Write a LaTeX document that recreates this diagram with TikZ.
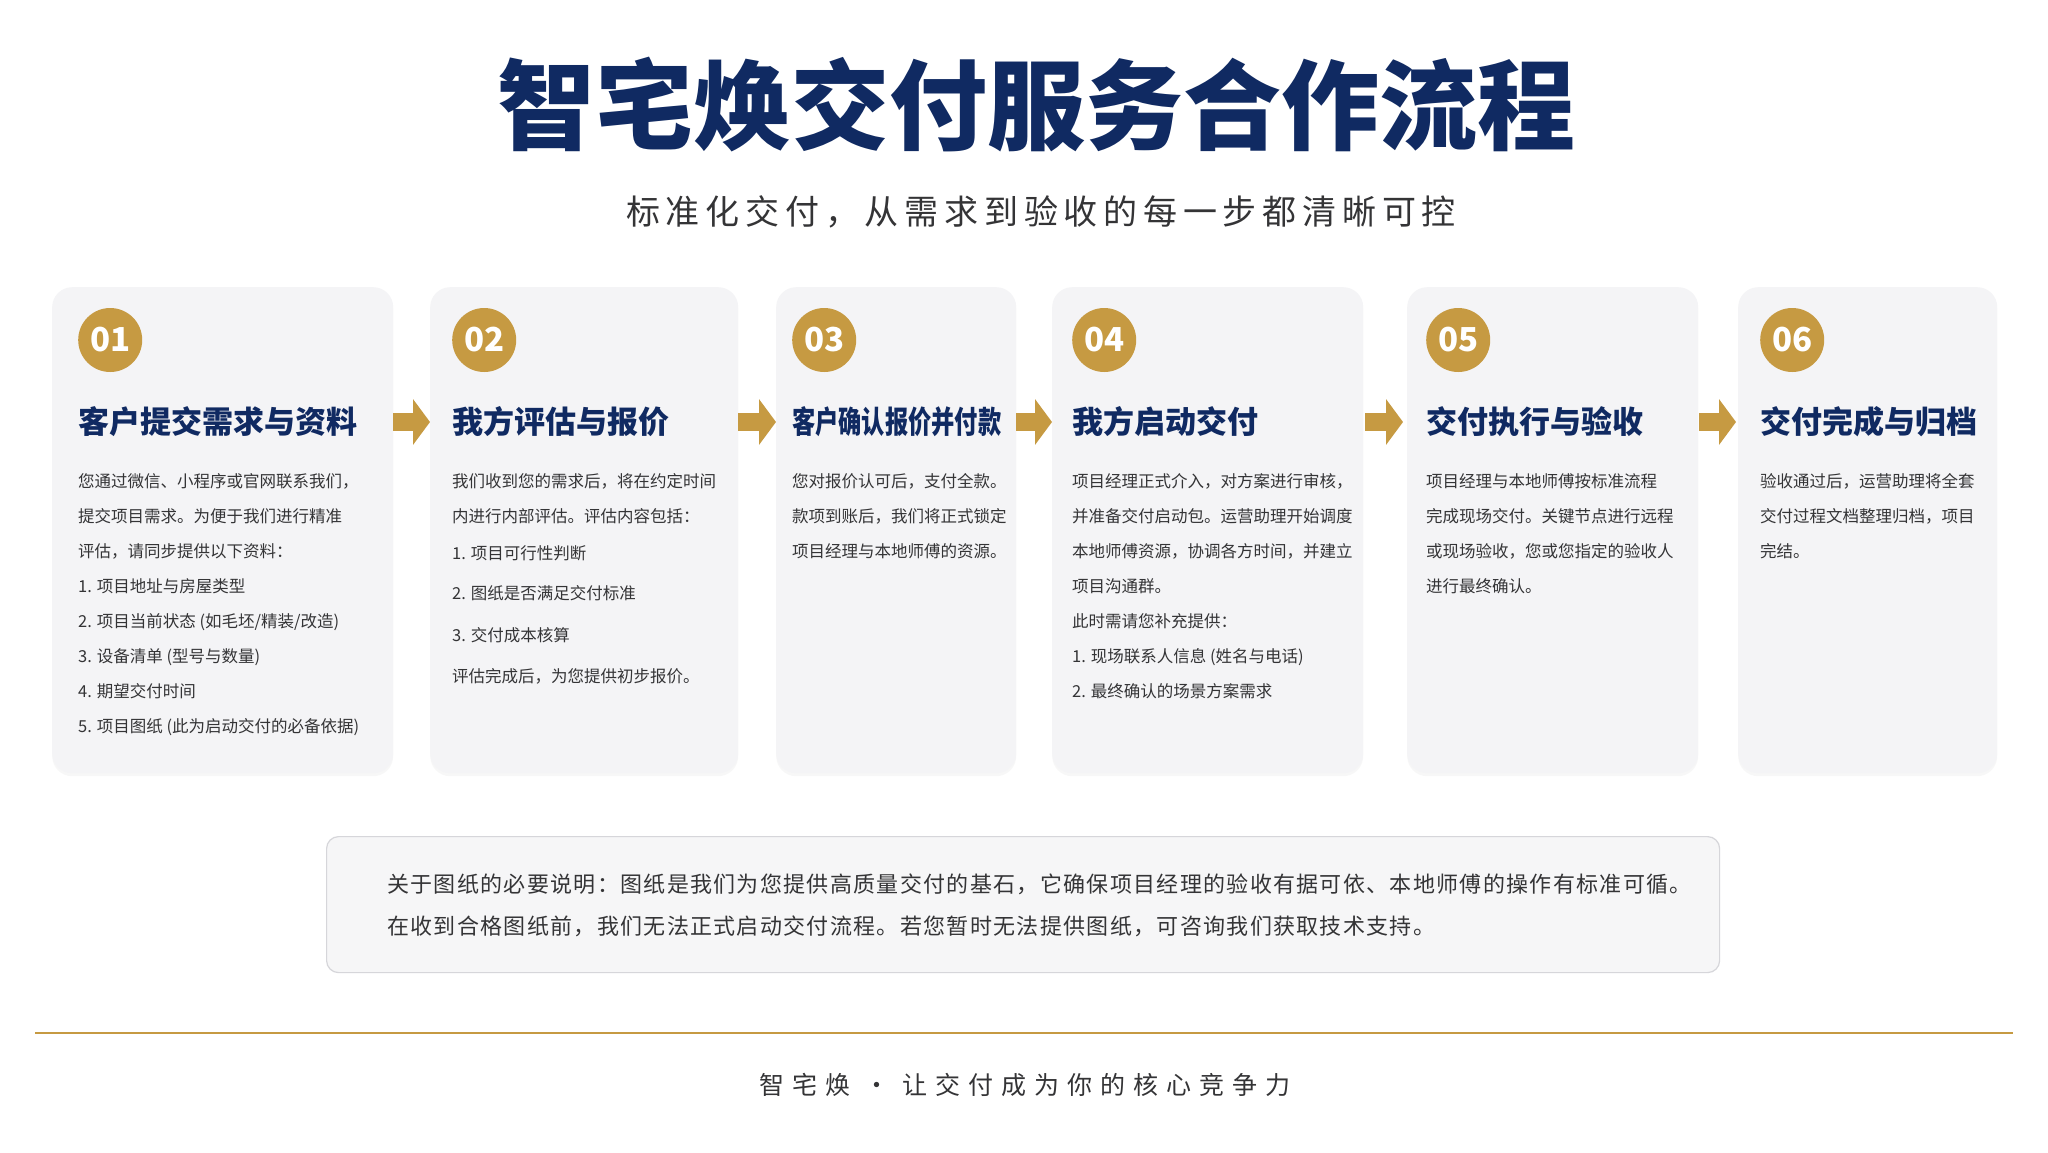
\documentclass[tikz,border=0pt]{standalone}
\usepackage{fontspec}
\setmainfont{Noto Sans CJK SC}
\usetikzlibrary{positioning,calc,shadows,arrows.meta}

\definecolor{navy}{RGB}{16,42,98}
\definecolor{gold}{RGB}{198,154,66}
\definecolor{cardgray}{RGB}{244,244,246}
\definecolor{bodygray}{RGB}{52,52,54}
\definecolor{noteline}{RGB}{214,214,218}
\definecolor{notefill}{RGB}{246,246,247}

\def\cardtop{287}
\def\cardheight{486}
\def\badgedrop{53}
\def\titledrop{82}
\def\bodydrop{133}

\tikzset{
  maintitle/.style={
    navy,
    font=\fontsize{98}{110}\selectfont\bfseries
  },
  subtitle/.style={
    bodygray,
    font=\fontsize{34}{40}\selectfont\addfontfeatures{LetterSpace=17}
  }
}
\tikzset{
  card/.style={
    rectangle,
    anchor=north west,
    rounded corners=20pt,
    inner sep=0pt,
    fill=cardgray,
    minimum height=\cardheight,
    drop shadow={opacity=0.06, shadow xshift=0pt, shadow yshift=-3pt}
  },
  badge/.style={
    circle,
    anchor=west,
    inner sep=0pt,
    minimum size=64pt,
    fill=gold,
    text=white,
    font=\fontsize{33}{33}\selectfont\bfseries
  },
  steptitle/.style={
    anchor=west,
    inner sep=0pt,
    navy,
    font=\fontsize{31}{36}\selectfont\bfseries
  },
  stepbody/.style={
    anchor=north west,
    inner sep=0pt,
    align=left,
    bodygray,
    font=\fontsize{16.5}{35}\selectfont
  },
  flow/.style={
    draw=gold,
    line width=18pt,
    -{Triangle[length=17pt, width=45pt]}
  }
}
\tikzset{
  notebox/.style={
    rectangle,
    anchor=north west,
    rounded corners=12pt,
    draw=noteline,
    line width=1.2pt,
    fill=notefill,
    minimum width=1393pt,
    minimum height=136pt
  },
  notetext/.style={
    anchor=west,
    inner sep=0pt,
    align=left,
    bodygray,
    font=\fontsize{22}{42}\selectfont\addfontfeatures{LetterSpace=6}
  },
  footline/.style={gold, line width=2.5pt},
  foottext/.style={
    bodygray,
    font=\fontsize{25}{30}\selectfont\addfontfeatures{LetterSpace=32}
  }
}

\begin{document}
\begin{tikzpicture}[x=1pt, y=-1pt, >=latex]
    \useasboundingbox[fill=white] (0,0) rectangle (2048,1152);

    %% Heading
    \node[maintitle] (title) at (1036,105) {智宅焕交付服务合作流程};
    \node[subtitle] (sub) at (1041,212) {标准化交付，从需求到验收的每一步都清晰可控};

    %% Cards
    \node[card, minimum width=341] (c1) at (52,\cardtop) {};
    \node[card, minimum width=308] (c2) at (430,\cardtop) {};
    \node[card, minimum width=240] (c3) at (776,\cardtop) {};
    \node[card, minimum width=311] (c4) at (1052,\cardtop) {};
    \node[card, minimum width=291] (c5) at (1407,\cardtop) {};
    \node[card, minimum width=259] (c6) at (1738,\cardtop) {};

    %% Step numbers
    \node[badge] (b1) at ($(c1.north west)+(26,\badgedrop)$) {01};
    \node[badge] (b2) at ($(c2.north west)+(22,\badgedrop)$) {02};
    \node[badge] (b3) at ($(c3.north west)+(16,\badgedrop)$) {03};
    \node[badge] (b4) at ($(c4.north west)+(20,\badgedrop)$) {04};
    \node[badge] (b5) at ($(c5.north west)+(19,\badgedrop)$) {05};
    \node[badge] (b6) at ($(c6.north west)+(22,\badgedrop)$) {06};

    %% Step titles
    \node[steptitle] (t1) at ($(b1.west)+(0,\titledrop)$) {客户提交需求与资料};
    \node[steptitle] (t2) at ($(b2.west)+(0,\titledrop)$) {我方评估与报价};
    \node[steptitle] (t3) at ($(b3.west)+(0,\titledrop)$) {\scalebox{0.75}[1]{客户确认报价并付款}};
    \node[steptitle] (t4) at ($(b4.west)+(0,\titledrop)$) {我方启动交付};
    \node[steptitle] (t5) at ($(b5.west)+(0,\titledrop)$) {交付执行与验收};
    \node[steptitle] (t6) at ($(b6.west)+(0,\titledrop)$) {交付完成与归档};

    %% Step texts
    \node[stepbody] (d1) at ($(b1.west)+(0,\bodydrop)$) {您通过微信、小程序或官网联系我们，\\
      提交项目需求。为便于我们进行精准\\
      评估，请同步提供以下资料：\\
      1. 项目地址与房屋类型\\
      2. 项目当前状态 (如毛坯/精装/改造)\\
      3. 设备清单 (型号与数量)\\
      4. 期望交付时间\\
      5. 项目图纸 (此为启动交付的必备依据)};
    \node[stepbody] (d2) at ($(b2.west)+(0,\bodydrop)$) {我们收到您的需求后，将在约定时间\\
      内进行内部评估。评估内容包括：\\[2pt]
      1. 项目可行性判断\\[5pt]
      2. 图纸是否满足交付标准\\[7pt]
      3. 交付成本核算\\[6pt]
      评估完成后，为您提供初步报价。};
    \node[stepbody] (d3) at ($(b3.west)+(0,\bodydrop)$) {您对报价认可后，支付全款。\\
      款项到账后，我们将正式锁定\\
      项目经理与本地师傅的资源。};
    \node[stepbody] (d4) at ($(b4.west)+(0,\bodydrop)$) {项目经理正式介入，对方案进行审核，\\
      并准备交付启动包。运营助理开始调度\\
      本地师傅资源，协调各方时间，并建立\\
      项目沟通群。\\
      此时需请您补充提供：\\
      1. 现场联系人信息 (姓名与电话)\\
      2. 最终确认的场景方案需求};
    \node[stepbody] (d5) at ($(b5.west)+(0,\bodydrop)$) {项目经理与本地师傅按标准流程\\
      完成现场交付。关键节点进行远程\\
      或现场验收，您或您指定的验收人\\
      进行最终确认。};
    \node[stepbody] (d6) at ($(b6.west)+(0,\bodydrop)$) {验收通过后，运营助理将全套\\
      交付过程文档整理归档，项目\\
      完结。};

    %% Arrows between cards
    \draw[flow] (c1.east |- t1.west) -- (c2.west |- t1.west);
    \draw[flow] (c2.east |- t2.west) -- (c3.west |- t2.west);
    \draw[flow] (c3.east |- t3.west) -- (c4.west |- t3.west);
    \draw[flow, shorten <=2pt, shorten >=4pt] (c4.east |- t4.west) -- (c5.west |- t4.west);
    \draw[flow, shorten <=1pt, shorten >=2pt] (c5.east |- t5.west) -- (c6.west |- t5.west);

    %% Note on drawings
    \node[notebox] (note) at (326,836) {};
    \node[notetext] (nt) at ($(note.west)+(61,1)$) {关于图纸的必要说明：图纸是我们为您提供高质量交付的基石，它确保项目经理的验收有据可依、本地师傅的操作有标准可循。\\
      在收到合格图纸前，我们无法正式启动交付流程。若您暂时无法提供图纸，可咨询我们获取技术支持。};

    %% Footer
    \coordinate (fl) at (35,1033);
    \coordinate (fr) at (2013,1033);
    \draw[footline] (fl) -- (fr);
    \node[foottext] (slogan) at (1025,1085) {智宅焕~·~让交付成为你的核心竞争力};
\end{tikzpicture}
\end{document}
